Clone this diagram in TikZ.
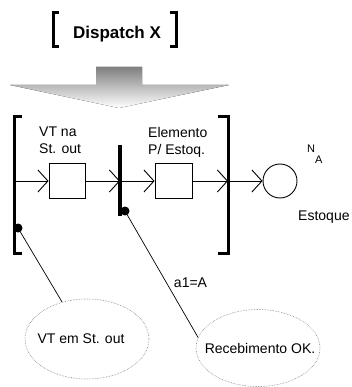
\documentclass[tikz,border=0pt]{standalone}
\usepackage{fontspec}
\setmainfont{Liberation Sans}
\usepackage{xcolor}
\definecolor{shade}{HTML}{808080}
\usetikzlibrary{arrows.meta, positioning, shapes.geometric}

\begin{document}
\begin{tikzpicture}[
  x=1pt, y=-1pt,
  lbl/.style={inner sep=0pt, font=\fontsize{14}{17}\selectfont, align=left},
  box/.style={draw, line width=0.9pt, minimum width=36pt,
              minimum height=35pt, inner sep=0pt},
  place/.style={draw, circle, line width=0.9pt, minimum size=34pt, inner sep=0pt},
  flow/.style={-{Straight Barb[length=10pt, width=22pt]}, line width=0.9pt},
  brk/.style={line width=3pt},
  bar/.style={line width=4pt},
  dot/.style={circle, fill=black, minimum size=9pt, inner sep=0pt},
  bubble/.style={draw=gray, densely dotted, ellipse, line width=0.6pt,
                 minimum width=124pt, minimum height=80pt, inner sep=0pt},
  lead/.style={line width=0.7pt}
]
\useasboundingbox (0,0) rectangle (352,387);

\fill[shade] (96,67) -- (142,67) -- (142,85) -- (229,85) -- (119,108)
  -- (10,85) -- (96,85) -- cycle;

\node[font=\fontsize{17}{20}\selectfont\bfseries, anchor=base] (dispatch)
  at (117,39) {Dispatch X};
\draw[brk] (59,13) -- (53.5,13) -- (53.5,47) -- (59,47);
\draw[brk] (170,13) -- (176,13) -- (176,47) -- (170,47);

\draw[brk] (22,117) -- (14,117) -- (14,253) -- (22,253);
\draw[brk] (218,117) -- (228,117) -- (228,253) -- (218,253);
\draw[bar] (120,145) -- (120,216);

\coordinate (in)  at (14,181);
\coordinate (bar) at (120,181);
\coordinate (out) at (228,181);

\node[box] (vtna) at (67,181) {};
\node[box, minimum width=37pt] (elem) at (173.5,181) {};
\node[place] (stock) at (280,181) {};

\node[lbl, anchor=north west] (vtnalbl) at (39,127) {VT na\\St. out};
\node[lbl, anchor=north west] (elemlbl) at (148,127) {Elemento\\P/ Estoq.};
\node[lbl, anchor=base west] (stocklbl) at (298,220) {Estoque};
\node[anchor=base west, inner sep=0pt, font=\fontsize{11}{13}\selectfont] (na)
  at (307,153) {N\raisebox{-11pt}{A}};

\draw[flow] (in)   -- (vtna);
\draw[flow] (vtna) -- (bar);
\draw[flow] (bar)  -- (elem);
\draw[flow] (elem) -- (out);
\draw[flow] (out)  -- (stock);

\node[dot] (d1) at (18,228) {};
\node[dot] (d2) at (125,211) {};

\node[bubble] (vtem) at (87,339) {};
\node[lbl] (vtemtxt) at ([xshift=-6pt]vtem) {VT em St. out};
\node[bubble, minimum height=77pt] (recv) at (258,348) {};
\node[lbl] (recvtxt) at ([xshift=2pt]recv) {Recebimento OK.};

\draw[lead] (d1.center) -- (vtem.124);
\draw[lead] (d2.center) -- node[pos=0.57, right=7pt, lbl] {a1=A} (recv.170);

\end{tikzpicture}
\end{document}
